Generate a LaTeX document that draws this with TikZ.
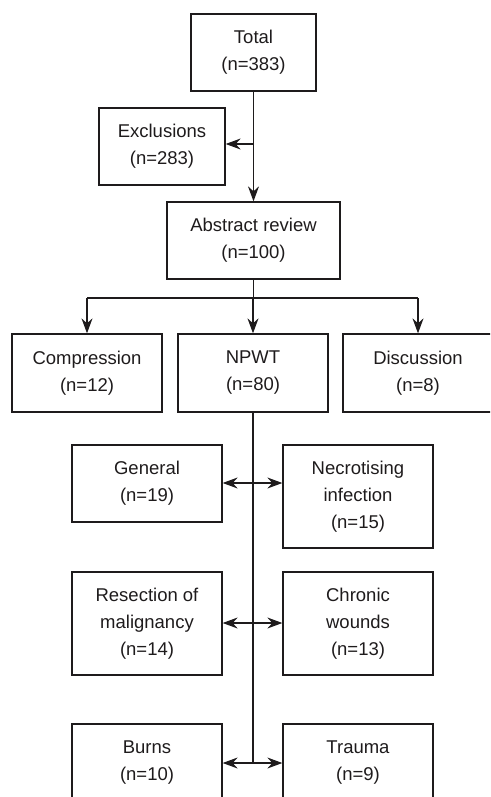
\documentclass[tikz,border=0pt]{standalone}
\usepackage{fontspec}
\setmainfont{Liberation Sans}
\usetikzlibrary{arrows.meta}
\definecolor{ink}{RGB}{30,27,28}
\begin{document}
\begin{tikzpicture}[x=1pt,y=-1pt,
  box/.style={draw=ink, line width=1.3pt, text=ink, align=center, inner sep=0pt,
    font=\fontsize{18.5}{27}\selectfont, minimum width=150pt, minimum height=77pt},
  conn/.style={draw=ink, line width=1.3pt},
  tip/.tip={Stealth[length=15pt,width=11pt,inset=5pt]},
  arr/.style={conn, -tip},
  darr/.style={conn, tip-tip}]
\useasboundingbox (0,0) rectangle (490,797);
\clip (0,0) rectangle (490,797);
\node[box, minimum width=125pt] (total) at (253.5,52.5) {Total\\(n=383)};
\node[box, minimum width=126pt] (excl) at (162,146.5) {Exclusions\\(n=283)};
\node[box, minimum width=173pt] (abs) at (253.5,240.5) {Abstract review\\(n=100)};
\node[box, minimum height=78pt] (comp) at (87,373) {Compression\\(n=12)};
\node[box, minimum height=78pt] (npwt) at (253,373) {NPWT\\(n=80)};
\node[box, minimum height=78pt] (disc) at (418,373) {Discussion\\(n=8)};
\node[box] (gen) at (147,483.5) {General\\(n=19)};
\node[box, minimum height=103pt] (necro) at (358,496.5) {Necrotising\\infection\\(n=15)};
\node[box, minimum height=103pt] (resec) at (147,623.5) {Resection of\\malignancy\\(n=14)};
\node[box, minimum height=103pt] (chron) at (358,623.5) {Chronic\\wounds\\(n=13)};
\node[box] (burns) at (147,762.5) {Burns\\(n=10)};
\node[box] (trauma) at (358,762.5) {Trauma\\(n=9)};
% top
\draw[arr] (total.south) -- (abs.north);
\coordinate (e1) at (253.5,144);
\draw[arr] (e1) -- (e1 -| excl.east);
% branch
\coordinate (b0) at (253.5,298);
\draw[conn] (abs.south) -- (b0);
\draw[conn] (b0 -| comp.north) -- (b0 -| disc.north);
\draw[arr] (b0 -| comp.north) -- (comp.north);
\draw[arr] (b0 -| npwt.north) -- (npwt.north);
\draw[arr] (b0 -| disc.north) -- (disc.north);
% trunk
\coordinate (t1) at (253,483);
\coordinate (t2) at (253,623);
\coordinate (t3) at (253,763);
\draw[conn] (npwt.south) -- (t3);
\draw[darr] (t1 -| gen.east) -- (t1 -| necro.west);
\draw[darr] (t2 -| resec.east) -- (t2 -| chron.west);
\draw[darr] (t3 -| burns.east) -- (t3 -| trauma.west);
\end{tikzpicture}
\end{document}
